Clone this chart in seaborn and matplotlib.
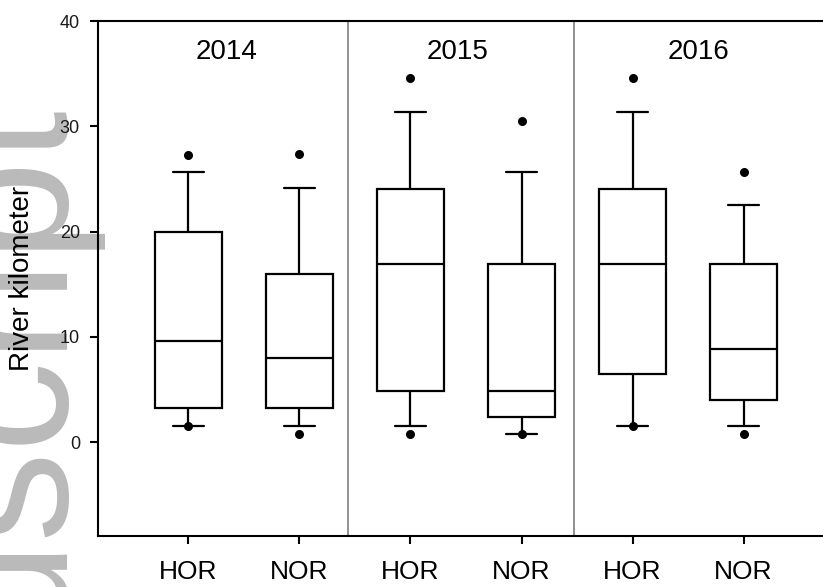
import numpy as np
import pandas as pd
import matplotlib
matplotlib.use("Agg")
import matplotlib.pyplot as plt
import seaborn as sns

# ---- data ----
groups = ["HOR 2014", "NOR 2014", "HOR 2015", "NOR 2015", "HOR 2016", "NOR 2016"]
tick_labels = ["HOR", "NOR", "HOR", "NOR", "HOR", "NOR"]
years = ["2014", "2015", "2016"]

whisker_low = [1.55, 1.55, 1.55, 0.82, 1.55, 1.55]
q1 = [3.23, 3.23, 4.84, 2.37, 6.46, 3.99]
median = [9.66, 8.0, 16.9, 4.84, 16.9, 8.83]
q3 = [20.0, 16.0, 24.06, 16.9, 24.06, 16.9]
whisker_high = [25.7, 24.1, 31.4, 25.7, 31.4, 22.5]
dot_low = [1.55, 0.82, 0.82, 0.82, 1.55, 0.82]
dot_high = [27.26, 27.35, 34.6, 30.5, 34.6, 25.7]

# five-number summaries as the box "data" (quartiles fall exactly on them)
rows = []
for g, a, b, c, d, e in zip(groups, whisker_low, q1, median, q3, whisker_high):
    for v in (a, b, c, d, e):
        rows.append((g, v))
box_df = pd.DataFrame(rows, columns=["group", "km"])
dot_df = pd.DataFrame({"group": groups * 2, "km": dot_low + dot_high})

sns.set_theme(style="ticks")
plt.rcParams["font.family"] = ["Liberation Sans", "DejaVu Sans"]

fig = plt.figure(figsize=(8.23, 5.87), dpi=100)
fig.patch.set_facecolor("white")

# watermark
fig.text(68 / 823, 1 - 110 / 587, "Author Manuscript", rotation=90,
         rotation_mode="anchor", ha="right", va="baseline",
         fontsize=130, color="#bababa", zorder=-1)

ax = fig.add_axes([98 / 823, 51 / 587, 736 / 823, 515 / 587])
ax.patch.set_visible(False)

sns.boxplot(data=box_df, x="group", y="km", order=groups, whis=(0, 100),
            width=0.6, color="white", linecolor="black", linewidth=1.6,
            showfliers=False, capwidths=0.28, ax=ax)
sns.stripplot(data=dot_df, x="group", y="km", order=groups, jitter=False,
              color="black", size=6.5, ax=ax, zorder=5)

ax.set_xlim(-0.815, 5.815)
ax.set_ylim(-8.9, 40)
ax.set_yticks([0, 10, 20, 30, 40])
ax.set_xticks(range(len(groups)))
ax.set_xticklabels(tick_labels)
ax.set_xlabel("")
ax.set_ylabel("River kilometer", fontsize=20, color="black")
ax.yaxis.set_label_coords(-0.085, 0.5)

for s in ["left", "top", "bottom"]:
    ax.spines[s].set_visible(True)
    ax.spines[s].set_linewidth(1.5)
    ax.spines[s].set_color("black")
ax.spines["right"].set_visible(False)

ax.tick_params(axis="both", direction="out", length=6, width=1.5, color="black")
ax.tick_params(axis="y", labelsize=13, pad=7, left=True, labelcolor="#1a1a1a")
ax.tick_params(axis="x", labelsize=19, pad=11, bottom=True, labelcolor="black")

for xs in (1.437, 3.473):
    ax.axvline(xs, color="#7f7f7f", lw=1.2, zorder=1)

year_x = [0.34, 2.42, 4.59]
for xp, yr in zip(year_x, years):
    ax.text(xp, 37.1, yr, ha="center", va="center", fontsize=20, color="black")

fig.savefig("out.png", dpi=100, facecolor="white")
